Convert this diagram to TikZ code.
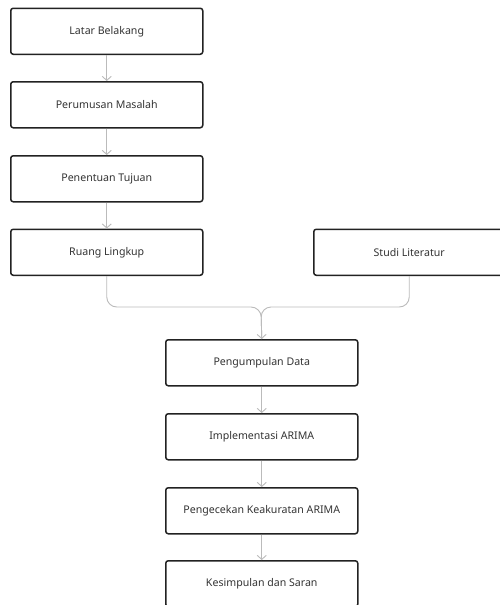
\documentclass[tikz,border=0pt]{standalone}
\usepackage{fontspec}
\setmainfont{Noto Sans}
\usetikzlibrary{arrows.meta}
\definecolor{boxline}{HTML}{222222}
\definecolor{conline}{HTML}{BBBBBB}
\definecolor{txt}{HTML}{333333}
\begin{document}
\begin{tikzpicture}[x=1pt,y=-1pt,
  stepbox/.style={draw=boxline, line width=1.5pt, rounded corners=2.5pt, fill=white,
    minimum width=192pt, minimum height=46pt, inner sep=0pt, text=txt,
    font=\fontsize{10.6}{12}\selectfont, anchor=north west},
  conn/.style={draw=conline, line width=0.9pt, -{Straight Barb[length=4pt,width=9pt,line width=0.9pt]}},
  connplain/.style={draw=conline, line width=0.9pt}]
\useasboundingbox (0,0) rectangle (500,605);
\node[stepbox] (l1) at (10,7.5) {Latar Belakang};
\node[stepbox] (l2) at (10,81) {Perumusan Masalah};
\node[stepbox] (l3) at (10,155) {Penentuan Tujuan};
\node[stepbox] (l4) at (10,228.5) {Ruang Lingkup};
\node[stepbox, minimum width=191pt] (s) at (313,228.5) {Studi Literatur};
\node[stepbox] (c1) at (165,339) {Pengumpulan Data};
\node[stepbox] (c2) at (165,413) {Implementasi ARIMA};
\node[stepbox] (c3) at (165,487) {Pengecekan Keakuratan ARIMA};
\node[stepbox] (c4) at (165,560) {Kesimpulan dan Saran};
\coordinate (m) at (261,307);
\draw[conn] (l1.south) -- (l2.north);
\draw[conn] (l2.south) -- (l3.north);
\draw[conn] (l3.south) -- (l4.north);
\draw[connplain, rounded corners=10pt] (l4.south) |- (m) -- (c1.north);
\draw[conn, rounded corners=10pt] (s.south) |- (m) -- (c1.north);
\draw[conn] (c1.south) -- (c2.north);
\draw[conn] (c2.south) -- (c3.north);
\draw[conn] (c3.south) -- (c4.north);
\end{tikzpicture}
\end{document}
